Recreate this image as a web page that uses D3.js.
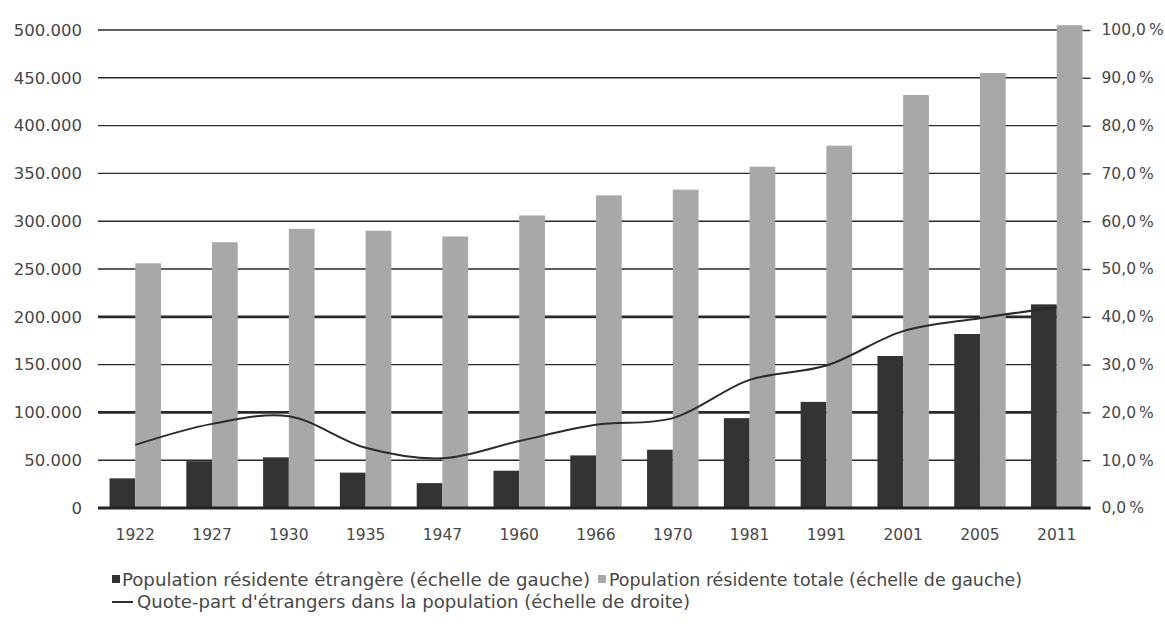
<!DOCTYPE html>
<html>
<head>
<meta charset="utf-8">
<script src="https://cdn.jsdelivr.net/npm/d3@7"></script>
<style>
  html, body { margin: 0; padding: 0; background: #fff; }
  svg { display: block; }
</style>
</head>
<body>
<svg id="chart" width="1165" height="628"></svg>
<script>
// Census years
const years = ["1922", "1927", "1930", "1935", "1947", "1960", "1966", "1970", "1981", "1991", "2001", "2005", "2011"];
// Foreign resident population
const foreignPop = [31000, 49000, 53000, 37000, 26000, 39000, 55000, 61000, 94000, 111000, 159000, 182000, 213000];
// Total resident population
const totalPop = [256000, 278000, 292000, 290000, 284000, 306000, 327000, 333000, 357000, 379000, 432000, 455000, 505000];
// Share of foreigners in the population (%)
const foreignShare = [13.2, 17.6, 19.2, 12.6, 10.4, 14.0, 17.4, 18.8, 26.8, 29.8, 37.0, 39.7, 42.0];

const leftTicks = [0, 50000, 100000, 150000, 200000, 250000, 300000, 350000, 400000, 450000, 500000];
const rightTicks = [0, 10, 20, 30, 40, 50, 60, 70, 80, 90, 100];

const legendLabels = [
  "Population résidente étrangère (échelle de gauche)",
  "Population résidente totale (échelle de gauche)",
  "Quote-part d'étrangers dans la population (échelle de droite)"
];

const darkColor = "#333333";
const lightColor = "#a8a8a8";
const textColor = "#484848";

const svg = d3.select("#chart");
const plotLeft = 98, plotRight = 1094, plotTop = 30, plotBottom = 508;

const x = d3.scaleBand().domain(years).range([plotLeft, plotRight]).paddingInner(0.33).paddingOuter(0.15);
const yL = d3.scaleLinear().domain([0, 500000]).range([plotBottom, plotTop]);
const yR = d3.scaleLinear().domain([0, 100]).range([plotBottom, plotTop]);

const fmtThousands = d3.formatLocale({ decimal: ",", thousands: ".", grouping: [3], currency: ["", ""] }).format(",");
const fmtPct = v => d3.format(".1f")(v).replace(".", ",") + "\u2009%";

// Horizontal gridlines
const gridRight = x(years[years.length - 1]) + x.bandwidth();
svg.append("g").selectAll("line")
  .data(leftTicks.filter(d => d > 0))
  .join("line")
  .attr("x1", plotLeft).attr("x2", gridRight)
  .attr("y1", d => yL(d)).attr("y2", d => yL(d))
  .attr("stroke", "#2a2a2a")
  .attr("stroke-width", d => (d === 100000 || d === 200000) ? 2.8 : 1.4);

// Left axis labels
const axL = svg.append("g").attr("transform", `translate(${plotLeft},0)`)
  .call(d3.axisLeft(yL).tickValues(leftTicks).tickFormat(d => d === 0 ? "0" : fmtThousands(d)).tickSize(0).tickPadding(16));
axL.select(".domain").remove();
axL.selectAll("text").attr("fill", textColor).style("font-family", "'DejaVu Sans', sans-serif").style("font-size", "16.5px");

// Right axis with short ticks
const axR = svg.append("g").attr("transform", `translate(${gridRight},0)`)
  .call(d3.axisRight(yR).tickValues(rightTicks).tickFormat(fmtPct).tickSize(8).tickPadding(11));
axR.select(".domain").remove();
axR.selectAll("line").attr("stroke", "#333").attr("stroke-width", 1.4);
axR.selectAll("text").attr("fill", textColor).style("font-family", "'DejaVu Sans', sans-serif").style("font-size", "15.5px");

// Bars
const half = x.bandwidth() / 2;
const bars = svg.append("g");
bars.selectAll("rect.foreign")
  .data(years)
  .join("rect")
  .attr("class", "foreign")
  .attr("x", d => x(d))
  .attr("width", half)
  .attr("y", (d, i) => yL(foreignPop[i]))
  .attr("height", (d, i) => yL(0) - yL(foreignPop[i]))
  .attr("fill", darkColor);
bars.selectAll("rect.total")
  .data(years)
  .join("rect")
  .attr("class", "total")
  .attr("x", d => x(d) + half)
  .attr("width", half)
  .attr("y", (d, i) => yL(totalPop[i]))
  .attr("height", (d, i) => yL(0) - yL(totalPop[i]))
  .attr("fill", lightColor);

// Baseline
svg.append("line")
  .attr("x1", plotLeft).attr("x2", gridRight + 8)
  .attr("y1", yL(0)).attr("y2", yL(0))
  .attr("stroke", "#222").attr("stroke-width", 3);

// X axis labels
const axX = svg.append("g").attr("transform", `translate(0,${plotBottom})`)
  .call(d3.axisBottom(x).tickSize(0).tickPadding(21));
axX.select(".domain").remove();
axX.selectAll("text").attr("fill", textColor).style("font-family", "'DejaVu Sans', sans-serif").style("font-size", "15.5px");

// Share line (right scale)
const line = d3.line()
  .x((d, i) => x(years[i]) + half)
  .y(d => yR(d))
  .curve(d3.curveCatmullRom.alpha(0.5));
svg.append("path")
  .datum(foreignShare)
  .attr("d", line)
  .attr("fill", "none")
  .attr("stroke", "#2b2b2b")
  .attr("stroke-width", 2);

// Legend
const legend = svg.append("g")
  .style("font-family", "'DejaVu Sans Condensed', 'DejaVu Sans', sans-serif")
  .style("font-size", "17px")
  .attr("fill", textColor);
legend.append("rect").attr("x", 112).attr("y", 575).attr("width", 8).attr("height", 8).attr("fill", darkColor);
legend.append("text").attr("x", 122).attr("y", 586)
  .attr("textLength", 468).attr("lengthAdjust", "spacingAndGlyphs").text(legendLabels[0]);
legend.append("rect").attr("x", 598).attr("y", 575).attr("width", 8).attr("height", 8).attr("fill", lightColor);
legend.append("text").attr("x", 609).attr("y", 586)
  .attr("textLength", 413).attr("lengthAdjust", "spacingAndGlyphs").text(legendLabels[1]);
legend.append("line").attr("x1", 112).attr("x2", 133).attr("y1", 602).attr("y2", 602)
  .attr("stroke", "#2b2b2b").attr("stroke-width", 2);
legend.append("text").attr("x", 137).attr("y", 608)
  .attr("textLength", 553).attr("lengthAdjust", "spacingAndGlyphs").text(legendLabels[2]);
</script>
</body>
</html>
